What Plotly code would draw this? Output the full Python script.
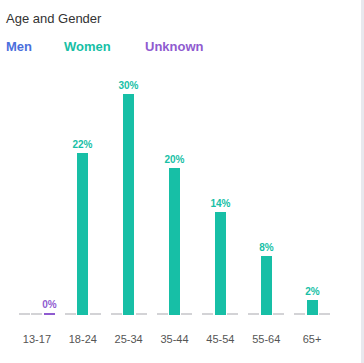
import plotly.graph_objects as go

categories = ["13-17", "18-24", "25-34", "35-44", "45-54", "55-64", "65+"]
men = [0, 0, 0, 0, 0, 0, 0]
women = [0, 22, 30, 20, 14, 8, 2]
unknown = [0.15, 0, 0, 0, 0, 0, 0]

series_names = ["Men", "Women", "Unknown"]
series_colors = ["#4a6fdc", "#17bfa6", "#8f5bd0"]
series_values = [men, women, unknown]
offsets = [-0.39, -0.12, 0.15]
bar_w = 0.24
gray = "#d3d3d6"

W, H = 364, 363
# plot area in page pixels: x 14..335, y 80..315
L, R, T, B = 14, 364 - 335, 80, 363 - 315
pw, ph = W - L - R, H - T - B

def px_x(px):
    return (px - L) / pw

def px_y(py):
    return (H - B - py) / ph

fig = go.Figure()

# baseline tracks
for off in offsets:
    fig.add_trace(go.Bar(
        x=categories, y=[0.2] * len(categories), offset=off, width=bar_w,
        marker=dict(color=gray, line=dict(width=0)), hoverinfo="skip", showlegend=False,
    ))

for name, color, vals, off in zip(series_names, series_colors, series_values, offsets):
    texts = [f"<b>{round(v)}%</b>" if v > 0 else "" for v in vals]
    fig.add_trace(go.Bar(
        x=categories, y=vals, offset=off, width=bar_w, name=name,
        marker=dict(color=color, line=dict(width=0)),
        text=texts, textposition="outside", cliponaxis=False,
        textfont=dict(size=10, color=color, family="Liberation Sans, Arial, sans-serif"),
        constraintext="none", showlegend=False,
    ))

annotations = [
    dict(text="Age and Gender", x=px_x(4), y=px_y(18), xref="paper", yref="paper",
         xanchor="left", yanchor="middle", showarrow=False,
         font=dict(size=13, color="#333333", family="Liberation Sans, Arial, sans-serif")),
]
for name, color, lx in zip(series_names, series_colors, [4, 62, 143]):
    annotations.append(dict(text=f"<b>{name}</b>", x=px_x(lx), y=px_y(47), xref="paper", yref="paper",
                            xanchor="left", yanchor="middle", showarrow=False,
                            font=dict(size=13, color=color, family="Liberation Sans, Arial, sans-serif")))

fig.update_layout(
    width=W, height=H, margin=dict(l=L, r=R, t=T, b=B),
    barmode="overlay", bargap=0,
    paper_bgcolor="white", plot_bgcolor="white",
    annotations=annotations,
    shapes=[dict(type="rect", xref="paper", yref="paper", x0=px_x(361), x1=px_x(364),
                 y0=px_y(363), y1=px_y(0), fillcolor="#e8e8ee", line=dict(width=0), layer="below")],
    xaxis=dict(showgrid=False, zeroline=False, showline=False, ticks="",
               tickfont=dict(size=11, color="#555555", family="Liberation Sans, Arial, sans-serif"),
               ticklabelstandoff=16, range=[-0.5, 6.5]),
    yaxis=dict(visible=False, range=[0, ph / 7.37]),
)

fig.write_html("out.html", config={"displayModeBar": False},
               post_script="document.body.style.margin='0';document.body.style.overflow='hidden';")
